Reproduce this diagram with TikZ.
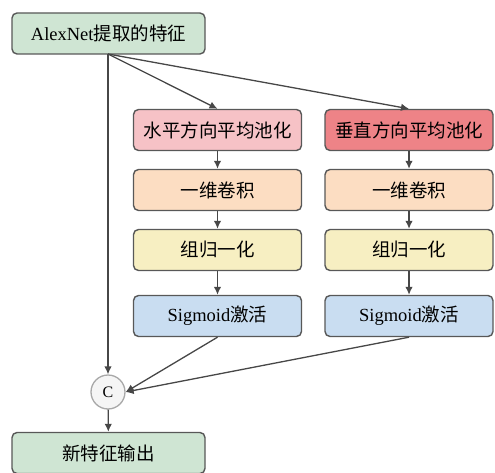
\documentclass[tikz,border=0pt]{standalone}
\usepackage{fontspec}
\setmainfont{Liberation Serif}
\newfontfamily\cjk{Noto Sans CJK SC}
\usetikzlibrary{arrows.meta}
\definecolor{linegray}{HTML}{474747}
\definecolor{boxedge}{HTML}{585858}
\definecolor{greenfill}{HTML}{CFE5D3}
\definecolor{pinkfill}{HTML}{F6C2C6}
\definecolor{redfill}{HTML}{EE8387}
\definecolor{orangefill}{HTML}{FCDDC2}
\definecolor{yellowfill}{HTML}{F7EFC2}
\definecolor{bluefill}{HTML}{C9DDF1}
\definecolor{circfill}{HTML}{F5F5F5}
\definecolor{circedge}{HTML}{A8A8A8}
\tikzset{
  block/.style={draw=boxedge, line width=1.4pt, rounded corners=5pt,
    minimum height=41pt, inner sep=0pt, font=\fontsize{18.5}{18.5}\selectfont},
  wideblock/.style={block, minimum width=193pt},
  colblock/.style={block, minimum width=168pt},
  link/.style={draw=linegray, line width=1.3pt, -{Latex[length=8pt,width=7.5pt]}},
}
\begin{document}
\begin{tikzpicture}[x=1pt,y=-1pt]
\useasboundingbox (0,0) rectangle (495,473);
% input and output
\node[wideblock, fill=greenfill] (in) at (108.5,33.5) {AlexNet{\cjk 提取的特征}};
\node[wideblock, fill=greenfill] (out) at (108.5,453) {\cjk 新特征输出};
% horizontal branch
\node[colblock, fill=pinkfill]   (h1) at (217.5,130) {\cjk 水平方向平均池化};
\node[colblock, fill=orangefill] (h2) at (217.5,190) {\cjk 一维卷积};
\node[colblock, fill=yellowfill] (h3) at (217.5,250) {\cjk 组归一化};
\node[colblock, fill=bluefill]   (h4) at (217.5,316) {Sigmoid{\cjk 激活}};
% vertical branch
\node[colblock, fill=redfill]    (v1) at (409,130) {\cjk 垂直方向平均池化};
\node[colblock, fill=orangefill] (v2) at (409,190) {\cjk 一维卷积};
\node[colblock, fill=yellowfill] (v3) at (409,250) {\cjk 组归一化};
\node[colblock, fill=bluefill]   (v4) at (409,316) {Sigmoid{\cjk 激活}};
% concatenation
\node[circle, draw=circedge, fill=circfill, line width=1.3pt, minimum size=34pt,
  inner sep=0pt, font=\fontsize{16}{16}\selectfont] (c) at (108,392) {C};
% connectors
\coordinate (split) at (108,54);
\draw[link] (split) -- (h1.north);
\draw[link] (split) -- (v1.north);
\draw[link] (split) -- (c.north);
\foreach \a/\b in {h1/h2,h2/h3,h3/h4,v1/v2,v2/v3,v3/v4} \draw[link] (\a) -- (\b);
\draw[link] (h4.south) -- (c.east);
\draw[link] (v4.south) -- (c.east);
\draw[link] (c) -- (out);
\end{tikzpicture}
\end{document}
